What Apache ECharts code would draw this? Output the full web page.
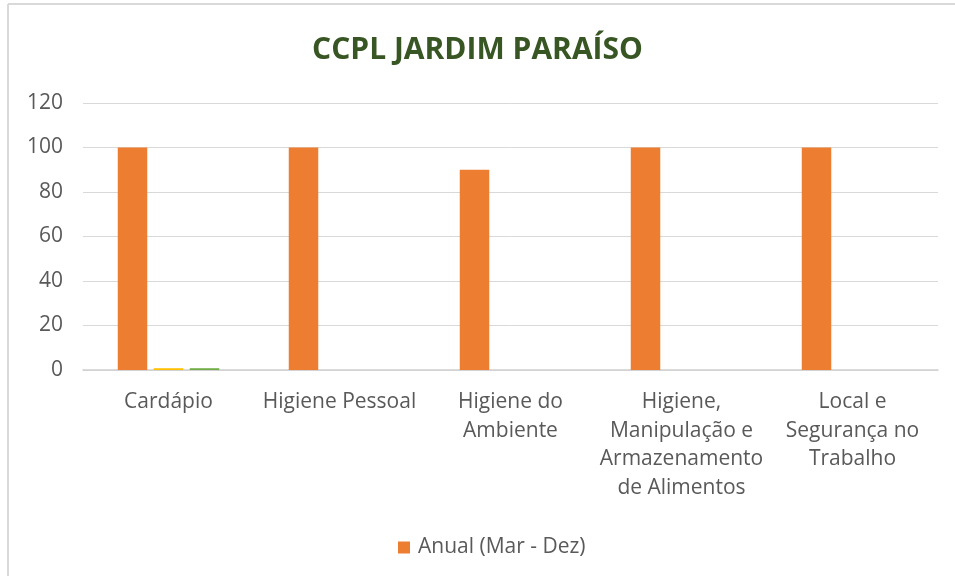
<!DOCTYPE html>
<html>
<head>
<meta charset="utf-8">
<script src="https://cdn.jsdelivr.net/npm/echarts@6/dist/echarts.min.js"></script>
<style>html,body{margin:0;padding:0;background:#fff}#c{width:955px;height:576px}</style>
</head>
<body>
<div id="c"></div>
<script>
const categories = ['Cardápio', 'Higiene Pessoal', 'Higiene do\nAmbiente', 'Higiene,\nManipulação e\nArmazenamento\nde Alimentos', 'Local e\nSegurança no\nTrabalho'];
const anualValues = [100, 100, 90, 100, 100];
const serie2Values = [0.8, 0, 0, 0, 0];
const serie3Values = [0.8, 0, 0, 0, 0];
const yTicks = [0, 20, 40, 60, 80, 100, 120];

const FONT = "'Open Sans', 'Liberation Sans', sans-serif";
const chart = echarts.init(document.getElementById('c'), null, {renderer: 'canvas'});
chart.setOption({
  animation: false,
  backgroundColor: '#fff',
  title: {
    text: 'CCPL JARDIM PARAÍSO',
    left: 'center', top: 30,
    textStyle: {fontFamily: "'Open Sans', sans-serif", fontWeight: 'bold', fontSize: 30, color: '#375623'}
  },
  graphic: [
    {type: 'line', shape: {x1: 8, y1: 4, x2: 955, y2: 4}, style: {stroke: '#d9d9d9', lineWidth: 2}},
    {type: 'line', shape: {x1: 8, y1: 4, x2: 8, y2: 576}, style: {stroke: '#d9d9d9', lineWidth: 2}}
  ],
  legend: {
    data: ['Anual (Mar - Dez)'],
    left: 393, top: 532,
    icon: 'rect', itemWidth: 12, itemHeight: 12, itemGap: 10,
    textStyle: {fontFamily: FONT, fontSize: 21, color: '#595959', padding: [0, 0, 0, 3]}
  },
  grid: {left: 83, right: 17, top: 103, bottom: 206, containLabel: false},
  xAxis: {
    type: 'category', data: categories,
    axisLine: {lineStyle: {color: '#d0d0d0', width: 1.5}},
    axisTick: {show: false},
    axisLabel: {interval: 0, margin: 18, fontFamily: FONT, fontSize: 21, color: '#595959', lineHeight: 28.5}
  },
  yAxis: {
    type: 'value', min: yTicks[0], max: yTicks[yTicks.length - 1], interval: 20,
    axisLine: {show: false}, axisTick: {show: false},
    splitLine: {lineStyle: {color: '#d9d9d9', width: 1}},
    axisLabel: {margin: 20, fontFamily: FONT, fontSize: 21, color: '#595959'}
  },
  series: [
    {name: 'Anual (Mar - Dez)', type: 'bar', data: anualValues, barWidth: 29.5, barGap: '22%', itemStyle: {color: '#ed7d31'}},
    {name: '1º Semestre', type: 'bar', data: serie2Values, barWidth: 29.5, barGap: '22%', itemStyle: {color: '#ffc000'}},
    {name: '2º Semestre', type: 'bar', data: serie3Values, barWidth: 29.5, barGap: '22%', itemStyle: {color: '#70ad47'}}
  ]
});
</script>
</body>
</html>
